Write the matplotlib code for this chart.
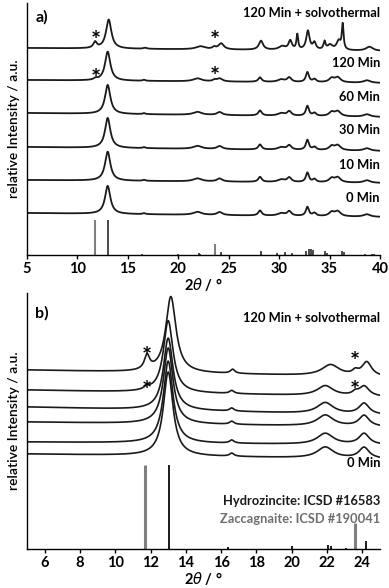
import numpy as np
import matplotlib
matplotlib.use('Agg')
import matplotlib.pyplot as plt

plt.rcParams['font.family'] = ['Lato', 'DejaVu Sans']
plt.rcParams['mathtext.fontset'] = 'dejavusans'

# reference stick patterns (relative intensity, %)
hz_pos = [13.05, 16.4, 20.0, 22.05, 22.2, 23.1, 24.2, 28.25, 29.8, 30.55, 31.3,
          32.65, 33.0, 33.2, 33.4, 34.55, 34.7, 36.2, 36.4, 38.5, 39.2, 39.4]
hz_int = [100, 2.5, 3.5, 5, 4, 1, 10, 11, 5, 8, 5,
          11, 17, 17, 14, 11, 7, 11, 10, 3, 3, 3]
zac_pos = [11.7, 23.6]
zac_int = [100, 31]

# panel a: peak positions shared by the time series (2theta), half widths
a_pos = [11.8, 13.0, 16.6, 21.9, 23.6, 24.1, 28.1, 30.2, 31.0, 32.8, 33.5, 35.2, 35.8, 38.7]
a_hw = [0.2, 0.32, 0.15, 0.5, 0.2, 0.32, 0.2, 0.4, 0.25, 0.18, 0.2, 0.3, 0.35, 0.4]
a_0 = [0, 28, 1, 3, 0, 3, 5, 2.5, 4.5, 9, 3, 4, 5, 2.5]
a_10 = [0, 29, 1, 3, 0, 3, 5, 2.5, 4.5, 9.5, 3, 4, 5, 2.5]
a_30 = [0, 30, 1, 3, 0, 3, 5, 2.5, 4.5, 10, 3, 4, 5, 2.5]
a_60 = [0, 29, 1, 3, 0, 3, 5, 2.5, 4.5, 10, 3, 4, 5, 2.5]
a_120 = [1.5, 29, 1, 3, 1.5, 3, 4.5, 2.5, 4.5, 10, 3, 4, 5, 2.5]
# solvothermal sample has its own peak list (extra ZnO reflections)
a_sol_pos = [11.75, 13.1, 16.7, 22.2, 23.55, 24.25, 28.2, 30.3, 31.1, 31.8, 32.85,
             33.5, 34.5, 35.05, 35.9, 36.3, 38.95]
a_sol_hw = [0.2, 0.32, 0.2, 0.55, 0.2, 0.32, 0.25, 0.4, 0.2, 0.1, 0.2,
            0.18, 0.12, 0.3, 0.25, 0.1, 0.4]
a_sol = [6, 29, 1, 3, 2, 6, 9, 3.5, 9, 15, 19, 7, 8, 5, 9, 25, 4]
# baselines (left end, right end)
a_base = {'0 Min': (42, 38), '10 Min': (75, 72), '30 Min': (108, 104),
          '60 Min': (142, 138), '120 Min': (175, 172), 'sol': (207, 204)}

# panel b: zoom 5-25 degrees
b_pos = [11.8, 13.0, 16.6, 21.9, 23.6, 24.1]
b_hw = [0.18, 0.33, 0.15, 0.55, 0.2, 0.35]
b_0 = [0, 84, 3, 11, 0, 11]
b_10 = [0, 82, 3, 11, 0, 11]
b_30 = [0, 76, 3, 11, 0, 11]
b_60 = [0, 72, 3, 11, 0, 11]
b_120 = [3, 72, 3, 10, 3, 10]
b_sol_pos = [11.8, 13.15, 16.65, 22.2, 23.6, 24.25]
b_sol_hw = [0.18, 0.35, 0.15, 0.6, 0.2, 0.33]
b_sol = [14, 76, 4, 11, 4, 14]
b_base = {'0 Min': (95, 90), '10 Min': (107, 104), '30 Min': (127, 122),
          '60 Min': (142, 134), '120 Min': (159, 152), 'sol': (179, 172)}


def pattern(x, pos, hw, h, base):
    y = base[0] + (base[1] - base[0]) * (x - x[0]) / (x[-1] - x[0])
    for p, w, a in zip(pos, hw, h):
        y = y + a / (1 + ((x - p) / w) ** 2)
    return y


fig = plt.figure(figsize=(3.89, 5.88), dpi=100)
ax1 = fig.add_axes([27 / 389, 1 - 255 / 588, 353 / 389, 252 / 588])
ax2 = fig.add_axes([27 / 389, 1 - 549 / 588, 353 / 389, 256 / 588])

lc = '#1a1a1a'
gray = '#808080'
lab_fs = 9.3

# ---- panel a ----
xa = np.linspace(5, 40, 2000)
for key, h in [('0 Min', a_0), ('10 Min', a_10), ('30 Min', a_30),
               ('60 Min', a_60), ('120 Min', a_120)]:
    ax1.plot(xa, pattern(xa, a_pos, a_hw, h, a_base[key]), color=lc, lw=1.3)
ax1.plot(xa, pattern(xa, a_sol_pos, a_sol_hw, a_sol, a_base['sol']), color=lc, lw=1.3)
ax1.vlines(zac_pos, 0, np.array(zac_int) * 0.35, color=gray, lw=1.5)
ax1.vlines(hz_pos, 0, np.array(hz_int) * 0.35, color=lc, lw=1.1)

ax1.set_xlim(5, 40)
ax1.set_ylim(0, 252)
ax1.set_xticks([5, 10, 15, 20, 25, 30, 35, 40])

labels_a = [('120 Min + solvothermal', 242), ('120 Min', 192), ('60 Min', 158),
            ('30 Min', 125), ('10 Min', 90), ('0 Min', 57)]
for txt, yy in labels_a:
    ax1.text(40, yy, txt, ha='right', va='center', fontsize=lab_fs, fontweight='bold')
for xx, yy in [(11.8, 213), (23.6, 213), (11.8, 176), (23.6, 177)]:
    ax1.text(xx, yy, '*', ha='center', va='center', fontsize=17, fontweight='bold')
ax1.text(5.9, 238, 'a)', ha='left', va='center', fontsize=11.5, fontweight='bold')

# ---- panel b ----
xb = np.linspace(5, 25, 1600)
for key, h in [('0 Min', b_0), ('10 Min', b_10), ('30 Min', b_30),
               ('60 Min', b_60), ('120 Min', b_120)]:
    ax2.plot(xb, pattern(xb, b_pos, b_hw, h, b_base[key]), color=lc, lw=1.2)
ax2.plot(xb, pattern(xb, b_sol_pos, b_sol_hw, b_sol, b_base['sol']), color=lc, lw=1.2)
ax2.vlines(zac_pos, 0, np.array(zac_int) * 0.84, color=gray, lw=2.2)
ax2.vlines(hz_pos, 0, np.array(hz_int) * 0.84, color=lc, lw=1.4)

ax2.set_xlim(5, 25)
ax2.set_ylim(0, 256)
ax2.set_xticks([6, 8, 10, 12, 14, 16, 18, 20, 22, 24])

ax2.text(25, 231, '120 Min + solvothermal', ha='right', va='center', fontsize=lab_fs, fontweight='bold')
ax2.text(25, 86, '0 Min', ha='right', va='center', fontsize=lab_fs, fontweight='bold')
ax2.text(25, 48, 'Hydrozincite: ICSD #16583', ha='right', va='center', fontsize=lab_fs,
         fontweight='bold', color=lc)
ax2.text(25, 30, 'Zaccagnaite: ICSD #190041', ha='right', va='center', fontsize=lab_fs,
         fontweight='bold', color='#6e6e6e')
for xx, yy in [(11.8, 191), (23.6, 186), (11.8, 157), (23.6, 157)]:
    ax2.text(xx, yy, '*', ha='center', va='center', fontsize=17, fontweight='bold')
ax2.text(5.45, 236, 'b)', ha='left', va='center', fontsize=11.5, fontweight='bold')

for ax in (ax1, ax2):
    for s in ('top', 'right'):
        ax.spines[s].set_visible(False)
    ax.spines['left'].set_linewidth(1.0)
    ax.spines['bottom'].set_linewidth(1.0)
    ax.set_yticks([])
    ax.tick_params(axis='x', length=3, width=1.0, pad=2, labelsize=10.5)
    for lab in ax.get_xticklabels():
        lab.set_fontweight('bold')
    ax.set_xlabel(r'2$\mathit{\theta}$ / °', fontsize=10.5, fontweight='bold', labelpad=0)
    ax.set_ylabel('relative Intensity / a.u.', fontsize=10, fontweight='semibold', labelpad=5)

fig.savefig('out.png', dpi=100)
